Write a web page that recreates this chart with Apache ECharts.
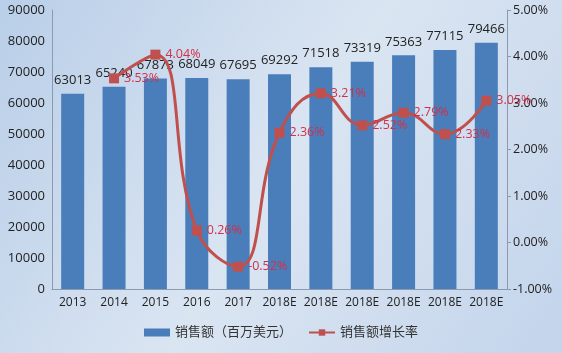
<!DOCTYPE html>
<html><head><meta charset="utf-8">
<script src="https://cdn.jsdelivr.net/npm/echarts@6/dist/echarts.min.js"></script>
<style>html,body{margin:0;padding:0;}#c{width:562px;height:353px;}</style>
</head><body><div id="c"></div>
<script>
const categories = ['2013','2014','2015','2016','2017','2018E','2018E','2018E','2018E','2018E','2018E'];
const sales = [63013,65240,67873,68049,67695,69292,71518,73319,75363,77115,79466];
const growth = [null,3.53,4.04,0.26,-0.52,2.36,3.21,2.52,2.79,2.33,3.05];
const leftTicks = [0,10000,20000,30000,40000,50000,60000,70000,80000,90000];
const rightTicks = ['-1.00%','0.00%','1.00%','2.00%','3.00%','4.00%','5.00%'];

const chart = echarts.init(document.getElementById('c'), null, {renderer:'canvas'});
const font = '"Open Sans", "Noto Sans CJK SC", sans-serif';
chart.setOption({
  animation:false,
  backgroundColor:{type:'linear',x:0,y:0,x2:1,y2:1,colorStops:[
    {offset:0,color:'#b9cee8'},{offset:0.5,color:'#dae5f2'},{offset:1,color:'#c3d4eb'}]},
  textStyle:{fontFamily:font},
  grid:{left:52,right:55,top:10,bottom:64},
  legend:{bottom:9,itemGap:16,itemWidth:26,itemHeight:8,
    textStyle:{fontSize:13,color:'#333',fontFamily:font},
    data:[{name:'销售额（百万美元）',icon:'rect'},{name:'销售额增长率'}]},
  xAxis:{type:'category',data:categories,
    axisLine:{lineStyle:{color:'#8a9bb0'}},axisTick:{show:false},
    axisLabel:{color:'#222',fontSize:12,margin:8,interval:0}},
  yAxis:[
    {type:'value',min:leftTicks[0],max:leftTicks[leftTicks.length-1],interval:10000,
     axisLine:{show:true,lineStyle:{color:'#8a9bb0'}},axisTick:{show:false},splitLine:{show:false},
     axisLabel:{color:'#222',fontSize:13,margin:7,formatter:v=>String(v)}},
    {type:'value',min:-1,max:5,interval:1,position:'right',
     axisLine:{show:true,lineStyle:{color:'#8a9bb0'}},
     axisTick:{show:true,inside:false,length:4,lineStyle:{color:'#8a9bb0'}},splitLine:{show:false},
     axisLabel:{color:'#222',fontSize:12.5,margin:6,formatter:v=>rightTicks[Math.round(v)+1]}}
  ],
  series:[
    {name:'销售额（百万美元）',type:'bar',data:sales,barWidth:23,
     itemStyle:{color:'#4a7ebb'},
     label:{show:true,position:'top',distance:7,color:'#222',fontSize:13,fontFamily:font}},
    {name:'销售额增长率',type:'line',yAxisIndex:1,data:growth,smooth:0.45,
     symbol:'rect',symbolSize:10,connectNulls:false,
     lineStyle:{color:'#c0504d',width:3},itemStyle:{color:'#c0504d'},
     label:{show:true,position:'right',distance:5,color:'#d0304a',fontSize:12.5,fontFamily:font,
       formatter:p=>p.value.toFixed(2)+'%'}}
  ]
});
</script></body></html>
